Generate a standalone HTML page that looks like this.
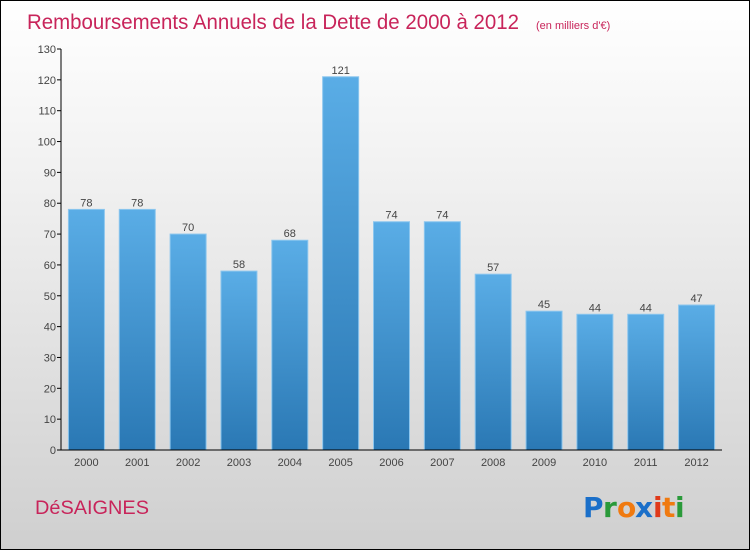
<!DOCTYPE html>
<html><head><meta charset="utf-8"><style>
body{margin:0}
#c{width:748px;height:548px;border:1px solid #000;background:linear-gradient(#ffffff,#f2f2f2 30%,#cfcfcf);position:relative;overflow:hidden;font-family:"Liberation Sans",sans-serif}
</style></head><body>
<div id="c">
<svg id="s" width="748" height="548" style="position:absolute;left:0;top:0">
<defs><linearGradient id="g" x1="0" y1="0" x2="0" y2="1"><stop offset="0" stop-color="#5aade6"/><stop offset="1" stop-color="#2a78b4"/></linearGradient></defs>
<text x="26" y="28" font-size="21" fill="#c8245a" textLength="492" lengthAdjust="spacingAndGlyphs">Remboursements Annuels de la Dette de 2000 à 2012</text>
<text x="535" y="28" font-size="11" fill="#c8245a">(en milliers d'€)</text>
<text x="34" y="513" font-size="19" fill="#c8245a" textLength="114" lengthAdjust="spacingAndGlyphs">DéSAIGNES</text>
<g font-size="28" font-weight="bold" font-family="'DejaVu Sans',sans-serif">
<text x="582" y="516" fill="#1a6fc9">P</text><text x="602" y="516" fill="#2a9a3a">r</text><text x="616" y="516" fill="#f07a10">o</text><text x="634" y="516" fill="#1a6fc9">x</text><text x="652" y="516" fill="#e03a1a">i</text><text x="661" y="516" fill="#f07a10">t</text><text x="674" y="516" fill="#2a9a3a">i</text></g>
<g id="plot"></g>
</svg></div>
<script>
const categories=["2000","2001","2002","2003","2004","2005","2006","2007","2008","2009","2010","2011","2012"];
const values=[78,78,70,58,68,121,74,74,57,45,44,44,47];
const ticks=[0,10,20,30,40,50,60,70,80,90,100,110,120,130];
const x0=60,x1=721,y0=449,yTop=48,ymax=130;
const band=(x1-x0)/categories.length,bw=36;
const y=v=>y0-(v/ymax)*(y0-yTop);
const xc=i=>x0+band*(i+0.5);
const ns="http://www.w3.org/2000/svg",g=document.getElementById('plot');
function el(t,a){const e=document.createElementNS(ns,t);for(const k in a)e.setAttribute(k,a[k]);g.appendChild(e);return e;}
ticks.forEach(t=>{
 const l=el('line',{x1:x0-4,x2:x0,y1:y(t),y2:y(t),stroke:'#000'});
 
 
 const tx=el('text',{x:x0-5,y:y(t)+4,'font-size':11,fill:'#444','text-anchor':'end'});tx.textContent=t;
 
 
});
values.forEach((v,i)=>{
 const r=el('rect',{x:xc(i)-bw/2,y:y(v),width:bw,height:y0-y(v),fill:'url(#g)',stroke:'#8cc6ee','stroke-width':1});
 
 
 const t=el('text',{x:xc(i),y:y(v)-3,'font-size':11,fill:'#444','text-anchor':'middle'});t.textContent=v;
 
 
 const c=el('text',{x:xc(i),y:y0+16,'font-size':11,fill:'#444','text-anchor':'middle'});c.textContent=categories[i];
 
 
});
const ya=el('line',{x1:x0,x2:x0,y1:yTop,y2:y0,stroke:'#000'});


const xa=el('line',{x1:x0,x2:x1,y1:y0,y2:y0,stroke:'#000'});


</script></body></html>
